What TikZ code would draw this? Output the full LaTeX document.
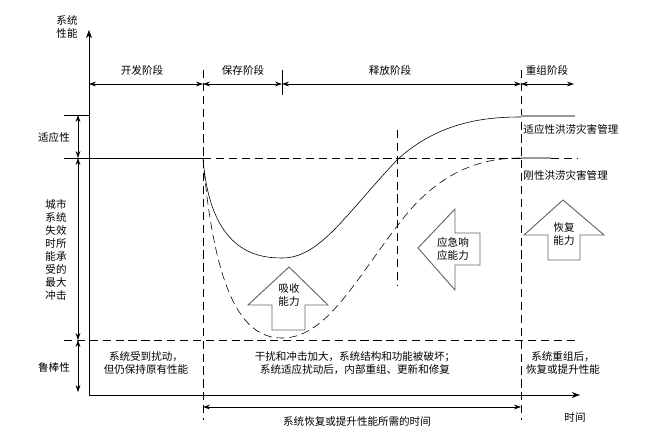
\documentclass[tikz,border=0pt]{standalone}
\usepackage{fontspec}
\setmainfont{Noto Sans CJK SC}
\usetikzlibrary{arrows.meta}
\tikzset{
  lbl/.style={font=\fontsize{9}{11}\selectfont, inner sep=1pt, align=center},
  dbl/.style={{Stealth[length=6pt,width=4pt]}-{Stealth[length=6pt,width=4pt]}},
  dsh/.style={dash pattern=on 7pt off 4pt},
  bigarrow/.style={draw=black!60, line width=0.8pt, fill=white}
}
\begin{document}
\begin{tikzpicture}[x=0.03cm,y=-0.03cm,line width=0.5pt]
\useasboundingbox (0,0) rectangle (667,442);
% axes
\draw[-{Stealth[length=7pt,width=5pt]}] (89,395) -- (89,30);
\draw[-{Stealth[length=7pt,width=5pt]}] (89,395) -- (580,395);
\node[lbl] (yl) at (67,27) {系统\\性能};
\node[lbl] (xl) at (575,418) {时间};

% stage separators
\draw[dsh] (203,70) -- (203,420);
\draw[dsh] (521,70) -- (521,420);
\draw (282,70) -- (282,95);
\draw[dsh] (397,130) -- (397,285);

% stage arrows
\coordinate (s0) at (89,84);
\coordinate (s1) at (203,84);
\coordinate (s2) at (282,84);
\coordinate (s3) at (521,84);
\coordinate (s4) at (574,84);
\draw[dbl] (s0) -- (s1);
\draw[dbl] (s1) -- (s2);
\draw[dbl] (s2) -- (s3);
\draw[dbl] (s3) -- (s4);
\node[lbl] (p1) at (142,70) {开发阶段};
\node[lbl] (p2) at (243,70) {保存阶段};
\node[lbl] (p3) at (390,70) {释放阶段};
\node[lbl] (p4) at (547,70) {重组阶段};

% levels
\draw (64,115) -- (89,115);
\draw (64,158) -- (203,158);
\draw[dsh] (203,158) -- (578,158);
\draw[dsh] (64,340) -- (578,340);
\draw[dbl] (78,115) -- (78,158);
\draw[dbl] (78,158) -- (78,340);
\draw[dbl] (78,340) -- (78,392);
\node[lbl] (ad) at (54,137) {适应性};
\node[lbl, align=center] (ms) at (56,250) {城市\\系统\\失效\\时所\\能承\\受的\\最大\\冲击};
\node[lbl] (rb) at (54,367) {鲁棒性};

% curves
\draw (203,158) .. controls (210,250) and (255,258) .. (282,258)
  .. controls (320,258) and (345,215) .. (397,160)
  .. controls (440,120) and (490,117) .. (521,117);
\draw[black!40, line width=1.2pt] (521,116) -- (575,116);
\draw[dsh] (203,158) .. controls (215,300) and (245,338) .. (282,338)
  .. controls (330,338) and (360,270) .. (410,210)
  .. controls (450,165) and (490,158) .. (521,158);
\draw[black!40, line width=1.2pt] (521,158) -- (551,158);
\node[lbl, anchor=west] (am) at (522,129) {适应性洪涝灾害管理};
\node[lbl, anchor=west] (rm) at (522,175) {刚性洪涝灾害管理};

% capacity arrows
\draw[bigarrow] (289,267) -- (328,305) -- (305,305) -- (305,330) -- (272,330) -- (272,305) -- (248,305) -- cycle;
\node[lbl] (ab) at (289,295) {吸收\\能力};
\draw[bigarrow] (418,248) -- (455,209) -- (455,233) -- (480,233) -- (480,265) -- (455,265) -- (455,290) -- cycle;
\node[lbl] (em) at (453,249) {应急响\\应能力};
\draw[bigarrow] (563,200) -- (604,235) -- (580,235) -- (580,260) -- (548,260) -- (548,235) -- (524,235) -- cycle;
\node[lbl] (rc) at (564,234) {恢复\\能力};

% bottom texts
\node[lbl] (t1) at (146,363) {系统受到扰动，\\但仍保持原有性能};
\node[lbl] (t2) at (355,363) {干扰和冲击加大，系统结构和功能被破坏；\\系统适应扰动后，内部重组、更新和修复};
\node[lbl] (t3) at (563,363) {系统重组后，\\恢复或提升性能};
\coordinate (r0) at (203,407);
\coordinate (r1) at (521,407);
\draw[dbl] (r0) -- (r1);
\node[lbl] (rt) at (357,421) {系统恢复或提升性能所需的时间};
\end{tikzpicture}
\end{document}
